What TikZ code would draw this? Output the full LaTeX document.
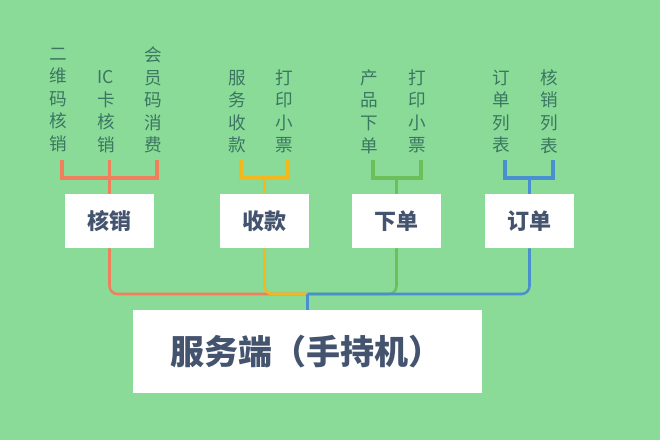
\documentclass[tikz,border=0pt]{standalone}
\usepackage{fontspec}
\setmainfont{Noto Sans CJK SC}
\usepackage{tikz}
\definecolor{bggreen}{HTML}{8BDB98}
\definecolor{labelgreen}{HTML}{3A7661}
\definecolor{boxtext}{HTML}{44546F}
\definecolor{linered}{HTML}{F07F5C}
\definecolor{lineyellow}{HTML}{F2B81E}
\definecolor{linegreen}{HTML}{6DBF5A}
\definecolor{lineblue}{HTML}{4A90D0}
\tikzset{
  box/.style={fill=white,minimum width=66.75pt,minimum height=40.5pt,inner sep=0pt,
    text=boxtext,font=\fontsize{16.5}{20}\selectfont\bfseries},
  leaf/.style={text=labelgreen,align=center,inner sep=0pt,
    font=\fontsize{13.2}{16.9}\selectfont},
  upper/.style={line width=2.3pt},
  lower/.style={line width=1.9pt,rounded corners=6pt}
}

\begin{document}
\begin{tikzpicture}[x=0.75pt,y=-0.75pt]

  \fill[bggreen] (0,0) rectangle (660,440);
  \useasboundingbox (0,0) rectangle (660,440);

  \node (hexiao) at (109.5,221) [box] {核销};
  \node (shoukuan) at (264.5,221) [box] {收款};
  \node (xiadan) at (396.5,221) [box] {下单};
  \node (dingdan) at (529.5,221) [box] {订单};
  \node (server) at (307.5,351.5) [fill=white,minimum width=261.75pt,minimum height=62.25pt,
    inner xsep=27.75pt,inner ysep=0pt,text width=206.25pt,align=left,text=boxtext,
    font=\fontsize{25.5}{30}\selectfont\bfseries] {服务端（手持机）};

  \node (ewm) at (58,100) [leaf] {二\\维\\码\\核\\销};
  \node (ic) at (106,111.5) [leaf] {IC\\卡\\核\\销};
  \node (hyxf) at (153,100) [leaf] {会\\员\\码\\消\\费};
  \node (fwsk) at (237,111.5) [leaf] {服\\务\\收\\款};
  \node (dy1) at (284,111.5) [leaf] {打\\印\\小\\票};
  \node (cpxd) at (369,111.5) [leaf] {产\\品\\下\\单};
  \node (dy2) at (417,111.5) [leaf] {打\\印\\小\\票};
  \node (ddlb) at (501,111.5) [leaf] {订\\单\\列\\表};
  \node (hxlb) at (549,111.5) [leaf] {核\\销\\列\\表};

  \coordinate (hub) at (307.5,294);

  % brackets
  \coordinate (r1) at (62,160);
  \coordinate (r2) at (109.5,160);
  \coordinate (r3) at (157,160);
  \coordinate (y1) at (241,160);
  \coordinate (y2) at (288,160);
  \coordinate (g1) at (373,160);
  \coordinate (g2) at (421,160);
  \coordinate (b1) at (505,160);
  \coordinate (b2) at (553,160);

  \draw[upper,linered]
     (r1) |- (hexiao.north |- 0,178) -| (r3)
     (r2) to (hexiao.north);
  \draw[upper,lineyellow]
     (y1) |- (shoukuan.north |- 0,178) -| (y2)
     (shoukuan.north |- 0,178) to (shoukuan.north);
  \draw[upper,linegreen]
     (g1) |- (xiadan.north |- 0,178) -| (g2)
     (xiadan.north |- 0,178) to (xiadan.north);
  \draw[upper,lineblue]
     (b1) |- (dingdan.north |- 0,178) -| (b2)
     (dingdan.north |- 0,178) to (dingdan.north);

  % down to the server
  \draw[lower,linered] (hexiao.south) |- (hub);
  \draw[lower,linegreen] (xiadan.south) |- (hub);
  \draw[lower,lineyellow] (shoukuan.south) |- (hub);
  \draw[lower,lineblue] (dingdan.south) |- (hub);
  \draw[lower,lineblue] (hub) to (server.north);

\end{tikzpicture}
\end{document}
